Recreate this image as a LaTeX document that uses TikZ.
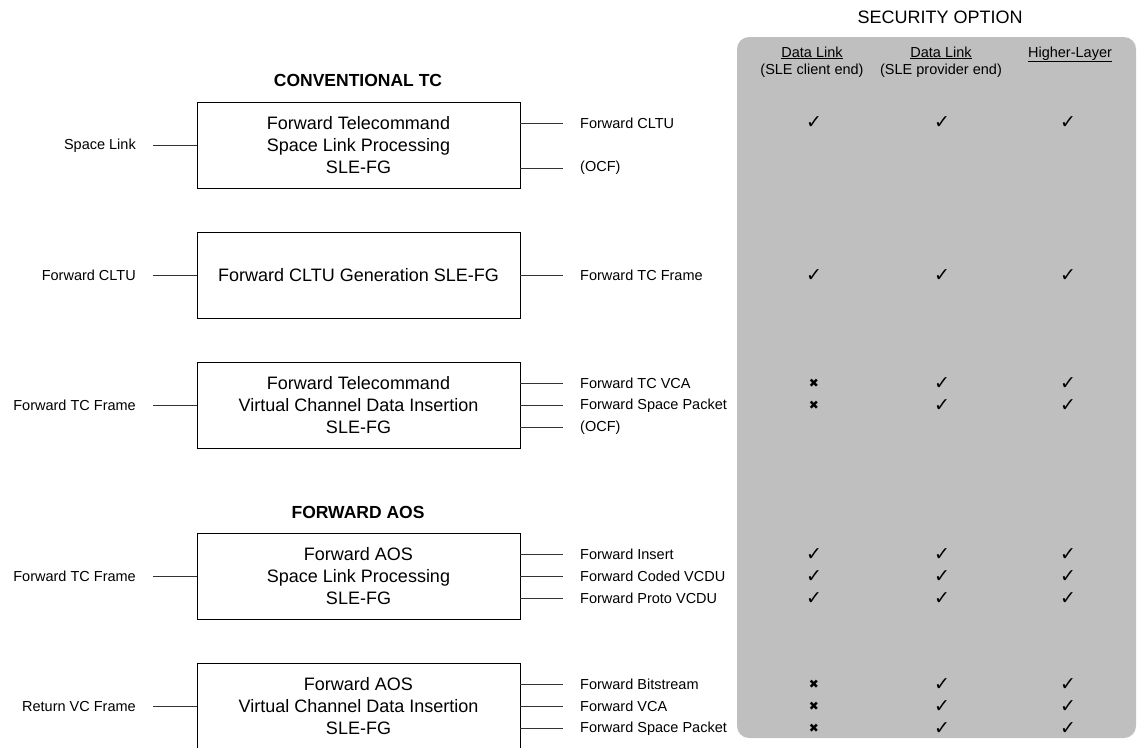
\documentclass[tikz,border=0pt]{standalone}
\usepackage{fontspec}
\setmainfont{Liberation Sans}
\newfontfamily\symfont{DejaVu Sans}
\begin{document}
\begin{tikzpicture}[x=1pt,y=-1pt,
  fgbox/.style={draw=black,line width=0.9pt,minimum width=323pt,minimum height=86pt,
    inner sep=0pt,align=center,font=\fontsize{18}{22}\selectfont},
  inlbl/.style={anchor=east,inner xsep=17pt,inner ysep=0pt,font=\fontsize{14.5}{16}\selectfont},
  outlbl/.style={anchor=west,inner xsep=17pt,inner ysep=0pt,font=\fontsize{14.5}{16}\selectfont},
  wire/.style={draw=black!80,line width=0.9pt},
  title/.style={font=\bfseries\fontsize{17.5}{20}\selectfont},
  colhead/.style={align=center,font=\fontsize{14.5}{17}\selectfont},
  yes/.style={font=\symfont\fontsize{19}{19}\selectfont,inner sep=0pt},
  no/.style={font=\symfont\fontsize{12}{12}\selectfont,inner sep=0pt},
]
\useasboundingbox (0,0) rectangle (1139,747);

% security option panel
\fill[fill=black!25,rounded corners=12pt] (737,37) rectangle (1136,738);
\node[font=\fontsize{18}{20}\selectfont] (secopt) at (940,17) {SECURITY OPTION};
\node[colhead,anchor=north] (hdA) at (812,43) {\underline{Data Link}\\(SLE client end)};
\node[colhead,anchor=north] (hdB) at (941,43) {\underline{Data Link}\\(SLE provider end)};
\node[colhead,anchor=north] (hdC) at (1070,43) {\underline{Higher-Layer}};

% section titles
\node[title] (tTC) at (358,80) {CONVENTIONAL TC};
\node[title] (tAOS) at (358,512) {FORWARD AOS};

% function group boxes
\node[fgbox] (b1) at (358.5,145.5) {Forward Telecommand\\Space Link Processing\\SLE-FG};
\node[fgbox] (b2) at (358.5,275.5) {Forward CLTU Generation SLE-FG};
\node[fgbox] (b3) at (358.5,405.5) {Forward Telecommand\\Virtual Channel Data Insertion\\SLE-FG};
\node[fgbox] (b4) at (358.5,576.5) {Forward AOS\\Space Link Processing\\SLE-FG};
\node[fgbox] (b5) at (358.5,706.5) {Forward AOS\\Virtual Channel Data Insertion\\SLE-FG};

% inputs
\node[inlbl] (i1) at (153,145.5) {Space Link};
\node[inlbl] (i2) at (153,275.5) {Forward CLTU};
\node[inlbl] (i3) at (153,405.5) {Forward TC Frame};
\node[inlbl] (i4) at (153,576.5) {Forward TC Frame};
\node[inlbl] (i5) at (153,706.5) {Return VC Frame};
\foreach \k in {1,...,5} \draw[wire] (i\k.east) -- (b\k.west);

% outputs
\node[outlbl] (o1a) at (563,123) {Forward CLTU};
\node[outlbl] (o1b) at (563,168) {(OCF)};
\node[outlbl] (o2a) at (563,275.5) {Forward TC Frame};
\node[outlbl] (o3a) at (563,383.5) {Forward TC VCA};
\node[outlbl] (o3b) at (563,405.5) {Forward Space Packet};
\node[outlbl] (o3c) at (563,427.5) {(OCF)};
\node[outlbl] (o4a) at (563,554.5) {Forward Insert};
\node[outlbl] (o4b) at (563,576.5) {Forward Coded VCDU};
\node[outlbl] (o4c) at (563,598.5) {Forward Proto VCDU};
\node[outlbl] (o5a) at (563,684.5) {Forward Bitstream};
\node[outlbl] (o5b) at (563,706.5) {Forward VCA};
\node[outlbl] (o5c) at (563,728.5) {Forward Space Packet};
\foreach \b/\o in {b1/o1a,b1/o1b,b2/o2a,b3/o3a,b3/o3b,b3/o3c,b4/o4a,b4/o4b,b4/o4c,b5/o5a,b5/o5b,b5/o5c}
  \draw[wire] (\b.east |- \o.west) -- (\o.west);

% security option marks: client end / provider end / higher layer
\foreach \o/\st/\sym [count=\r] in {o1a/yes/✓,o2a/yes/✓,o3a/no/✖,o3b/no/✖,o4a/yes/✓,o4b/yes/✓,o4c/yes/✓,o5a/no/✖,o5b/no/✖,o5c/no/✖}{
  \node[\st] (mA\r) at (814,0 |- \o.west) {\sym};
  \node[yes] (mB\r) at (942,0 |- \o.west) {✓};
  \node[yes] (mC\r) at (1068,0 |- \o.west) {✓};
}
\end{tikzpicture}
\end{document}
